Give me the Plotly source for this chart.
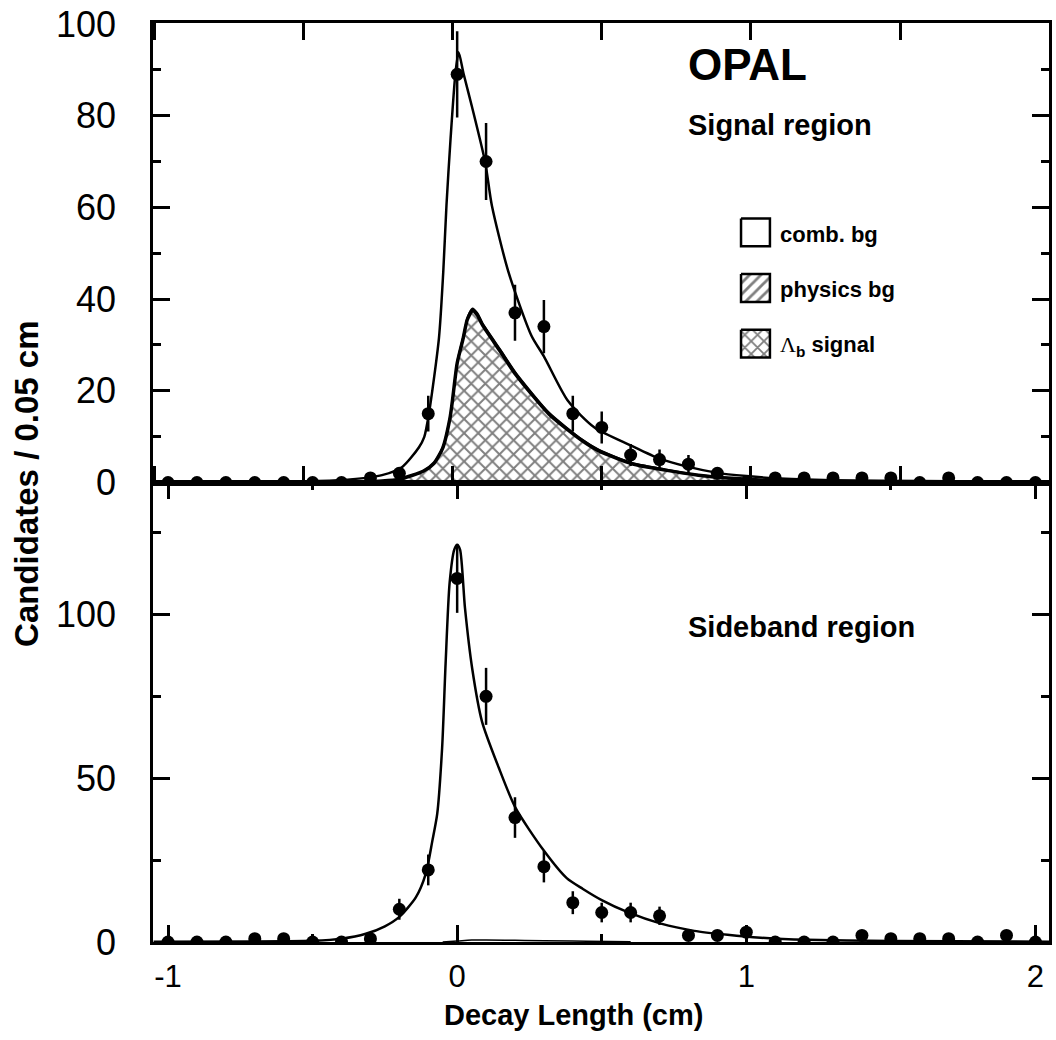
import plotly.graph_objects as go

# ---------------- data ----------------
bin_x = [-1.0, -0.9, -0.8, -0.7, -0.6, -0.5, -0.4, -0.3, -0.2, -0.1, 0.0,
         0.1, 0.2, 0.3, 0.4, 0.5, 0.6, 0.7, 0.8, 0.9, 1.0,
         1.1, 1.2, 1.3, 1.4, 1.5, 1.6, 1.7, 1.8, 1.9, 2.0]

signal_counts = [0, 0, 0, 0, 0, 0, 0, 1, 2, 15, 89,
                 70, 37, 34, 15, 12, 6, 5, 4, 2, 0,
                 1, 1, 1, 1, 1, 0, 1, 0, 0, 0]
signal_errors = [0, 0, 0, 0, 0, 0, 0, 1.0, 1.4, 3.9, 9.4,
                 8.4, 6.1, 5.8, 3.9, 3.5, 2.4, 2.2, 2.0, 1.4, 0,
                 1.0, 1.0, 1.0, 1.0, 1.0, 0, 1.0, 0, 0, 0]

side_counts = [0, 0, 0, 1, 1, 0, 0, 1, 10, 22, 111,
               75, 38, 23, 12, 9, 9, 8, 2, 2, 3,
               0, 0, 0, 2, 1, 1, 1, 0, 2, 0]
side_errors = [0, 0, 0, 1.0, 1.0, 0, 0, 1.0, 3.2, 4.7, 10.5,
               8.7, 6.2, 4.8, 3.5, 3.0, 3.0, 2.8, 1.4, 1.4, 1.7,
               0, 0, 0, 1.4, 1.0, 1.0, 1.0, 0, 1.4, 0]

# total fit, signal region
fit_x = [-1.05, -0.6, -0.48, -0.37, -0.26, -0.19, -0.132, -0.114, -0.098, -0.063,
         -0.048, -0.037, -0.023, -0.006, 0.005, 0.022, 0.051, 0.097, 0.12, 0.177,
         0.257, 0.3, 0.383, 0.475, 0.6, 0.7, 0.8, 0.9, 1.0, 1.1, 1.3, 1.6, 2.05]
fit_y = [0.05, 0.15, 0.3, 0.65, 1.6, 3.4, 7.7, 9.9, 14.9, 31.5,
         46.0, 60.4, 74.8, 89.2, 93.8, 89.2, 82.0, 69.8, 60.4, 46.0,
         32.0, 27.5, 17.8, 12.0, 8.1, 5.2, 3.4, 2.1, 1.4, 0.9, 0.5, 0.3, 0.15]

# Lambda_b signal and physics background components, signal region
comp_x = [-1.05, -0.4, -0.26, -0.2, -0.116, -0.08, -0.05, -0.025, -0.017, 0.0,
          0.021, 0.035, 0.053, 0.07, 0.088, 0.15, 0.203, 0.318, 0.433, 0.49,
          0.605, 0.72, 0.834, 0.95, 1.1, 1.4, 2.05]
lb_signal = [0, 0.05, 0.3, 0.7, 2.5, 4.2, 7.5, 14.0, 17.5, 26.0,
             31.5, 35.5, 37.5, 36.5, 34.3, 28.5, 23.5, 14.9, 9.1, 6.9,
             4.1, 2.7, 1.6, 0.9, 0.4, 0.1, 0]
phys_bg = [0, 0, 0, 0, 0.1, 0.2, 0.3, 0.4, 0.4, 0.5,
           0.5, 0.5, 0.5, 0.5, 0.5, 0.5, 0.5, 0.4, 0.3, 0.3,
           0.2, 0.2, 0.1, 0.1, 0.05, 0, 0]

# total fit, sideband region
sb_fit_x = [-1.05, -0.6, -0.5, -0.4, -0.316, -0.25, -0.201, -0.143, -0.109, -0.086,
            -0.069, -0.052, -0.04, -0.026, -0.01, 0.0, 0.01, 0.027, 0.052, 0.086,
            0.144, 0.201, 0.299, 0.379, 0.435, 0.5, 0.59, 0.705, 0.82, 0.935,
            1.05, 1.165, 1.5, 2.05]
sb_fit_y = [0.05, 0.2, 0.35, 1.0, 2.5, 4.8, 7.6, 13.6, 20.7, 30.8,
            39.1, 59.3, 85.0, 109.7, 119.8, 121.3, 119.8, 102.0, 83.5, 67.3,
            53.2, 41.1, 28.0, 19.5, 16.2, 12.8, 9.1, 5.6, 3.4, 2.2,
            1.3, 0.8, 0.3, 0.1]

# small component in the sideband region
sb_comp_x = [-0.05, 0.0, 0.05, 0.1, 0.2, 0.3, 0.45, 0.6]
sb_comp_y = [0.0, 0.3, 0.6, 0.6, 0.5, 0.4, 0.25, 0.1]

# tick labels
x_tick_vals = [-1, 0, 1, 2]
x_tick_text = ["-1", "0", "1", "2"]

legend_labels = ["comb. bg", "physics bg",
                 "<span style=\"font-family:'Liberation Serif';font-weight:normal\">Λ</span><sub>b</sub> signal"]
legend_patterns = ["", "/", "x"]

# ---------------- layout constants ----------------
W, H = 1056, 1040
ML, MR, MT, MB = 153, 4, 16, 98
PW = W - ML - MR
PH = H - MT - MB
FONT = "Liberation Sans, Arial, sans-serif"


def px_x(px):
    return (px - ML) / PW


def px_y(py):
    return (H - MB - py) / PH


fig = go.Figure()

# --- signal region components (stacked) ---
fig.add_trace(go.Scatter(
    x=comp_x, y=lb_signal, mode="lines", stackgroup="comp",
    line=dict(color="black", width=3.5, shape="spline", smoothing=0.6),
    fillcolor="white",
    fillpattern=dict(shape="x", size=10, solidity=0.35, fgcolor="black", bgcolor="white"),
    xaxis="x", yaxis="y", showlegend=False, hoverinfo="skip"))
fig.add_trace(go.Scatter(
    x=comp_x, y=phys_bg, mode="lines", stackgroup="comp",
    line=dict(color="black", width=1.5, shape="spline", smoothing=0.6),
    fillcolor="white",
    fillpattern=dict(shape="/", size=8, solidity=0.25, fgcolor="black", bgcolor="white"),
    xaxis="x", yaxis="y", showlegend=False, hoverinfo="skip"))

# --- total fit, signal region ---
fig.add_trace(go.Scatter(
    x=fit_x, y=fit_y, mode="lines",
    line=dict(color="black", width=2.5, shape="spline", smoothing=0.7),
    xaxis="x", yaxis="y", showlegend=False))

# --- data, signal region ---
fig.add_trace(go.Scatter(
    x=bin_x, y=signal_counts, mode="markers",
    marker=dict(color="black", size=13, symbol="circle"),
    error_y=dict(type="data", array=signal_errors, width=0, thickness=2.5, color="black"),
    xaxis="x", yaxis="y", showlegend=False))

# --- sideband region ---
fig.add_trace(go.Scatter(
    x=sb_comp_x, y=sb_comp_y, mode="lines",
    line=dict(color="black", width=1.5, shape="spline"),
    xaxis="x2", yaxis="y2", showlegend=False))
fig.add_trace(go.Scatter(
    x=sb_fit_x, y=sb_fit_y, mode="lines",
    line=dict(color="black", width=2.5, shape="spline", smoothing=0.7),
    xaxis="x2", yaxis="y2", showlegend=False))
fig.add_trace(go.Scatter(
    x=bin_x, y=side_counts, mode="markers",
    marker=dict(color="black", size=13, symbol="circle"),
    error_y=dict(type="data", array=side_errors, width=0, thickness=2.5, color="black"),
    xaxis="x2", yaxis="y2", showlegend=False))

# --- legend swatches, drawn on a hidden pixel-scaled axis over the top panel ---
box_left, box_w, box_h = 743, 29, 28
box_tops = [213, 269, 325]
for top, pat in zip(box_tops, legend_patterns):
    kw = {}
    if pat:
        kw["fillpattern"] = dict(shape=pat, size=8 if pat == "/" else 9, solidity=0.35,
                                 fgcolor="black", bgcolor="white")
    fig.add_trace(go.Scatter(
        x=[box_left, box_left + box_w, box_left + box_w, box_left, box_left],
        y=[top, top, top + box_h, top + box_h, top],
        mode="lines", fill="toself", fillcolor="white",
        line=dict(color="black", width=2.5),
        xaxis="x3", yaxis="y3", showlegend=False, hoverinfo="skip", **kw))

axis_common = dict(showline=True, linecolor="black", linewidth=2.5, mirror="ticks",
                   ticks="inside", tickcolor="black", tickwidth=2.5,
                   showgrid=False, zeroline=False, ticklabeloverflow="allow")

x_range = [-1.052, 2.047]

fig.update_layout(
    width=W, height=H,
    margin=dict(l=ML, r=MR, t=MT, b=MB),
    paper_bgcolor="white", plot_bgcolor="rgba(0,0,0,0)",
    font=dict(family=FONT, color="black"),
    showlegend=False,
    xaxis=dict(domain=[0, 1], anchor="y", range=x_range, tickmode="linear",
               tick0=0.5, dtick=0.5159, ticklen=17, showticklabels=False, **axis_common),
    yaxis=dict(domain=[0.5, 1], anchor="x", range=[0, 100.2], tickmode="linear",
               tick0=0, dtick=20, ticklen=17,
               minor=dict(dtick=10, ticklen=8, ticks="inside", tickcolor="black", tickwidth=2.5),
               tickfont=dict(size=36, family=FONT), ticklabelstandoff=27, **axis_common),
    xaxis2=dict(domain=[0, 1], anchor="y2", range=x_range, tickmode="array",
                tickvals=x_tick_vals, ticktext=x_tick_text, ticklen=17,
                minor=dict(dtick=0.5, tick0=0, ticklen=8, ticks="inside", tickcolor="black", tickwidth=2.5),
                tickfont=dict(size=31, family=FONT), ticklabelstandoff=5, **axis_common),
    yaxis2=dict(domain=[0, 0.5], anchor="x2", range=[0, 140.3], tickmode="linear",
                tick0=0, dtick=50, ticklen=17,
                minor=dict(dtick=25, ticklen=8, ticks="inside", tickcolor="black", tickwidth=2.5),
                tickfont=dict(size=36, family=FONT), ticklabelstandoff=27, **axis_common),
    xaxis3=dict(domain=[0, 1], anchor="y3", range=[ML, W - MR], visible=False),
    yaxis3=dict(domain=[0.5, 1], anchor="x3", range=[MT + PH / 2, MT], visible=False),
)

annotations = [
    dict(text="<b>OPAL</b>", x=px_x(688), y=px_y(58), font=dict(size=44)),
    dict(text="<b>Signal region</b>", x=px_x(688), y=px_y(119), font=dict(size=29)),
    dict(text="<b>Sideband region</b>", x=px_x(688), y=px_y(625), font=dict(size=29)),
]
for top, lab in zip(box_tops, legend_labels):
    annotations.append(dict(text="<b>" + lab + "</b>", x=px_x(780), y=px_y(top + 16),
                            font=dict(size=22)))
for a in annotations:
    a.update(xref="paper", yref="paper", xanchor="left", yanchor="middle",
             showarrow=False)
    a["font"]["family"] = FONT
    a["font"]["color"] = "black"

annotations.append(dict(text="<b>Decay Length (cm)</b>", x=px_x(575), y=px_y(1016),
                        xref="paper", yref="paper", xanchor="center", yanchor="middle",
                        showarrow=False, font=dict(size=29, family=FONT, color="black")))
annotations.append(dict(text="<b>Candidates / 0.05 cm</b>", x=px_x(26), y=px_y(480),
                        xref="paper", yref="paper", xanchor="center", yanchor="middle",
                        textangle=-90, showarrow=False,
                        font=dict(size=33, family=FONT, color="black")))
fig.update_layout(annotations=annotations)

fig.write_html("out.html", config={"displayModeBar": False},
               post_script="document.body.style.margin='0px';document.body.style.overflow='hidden';")
